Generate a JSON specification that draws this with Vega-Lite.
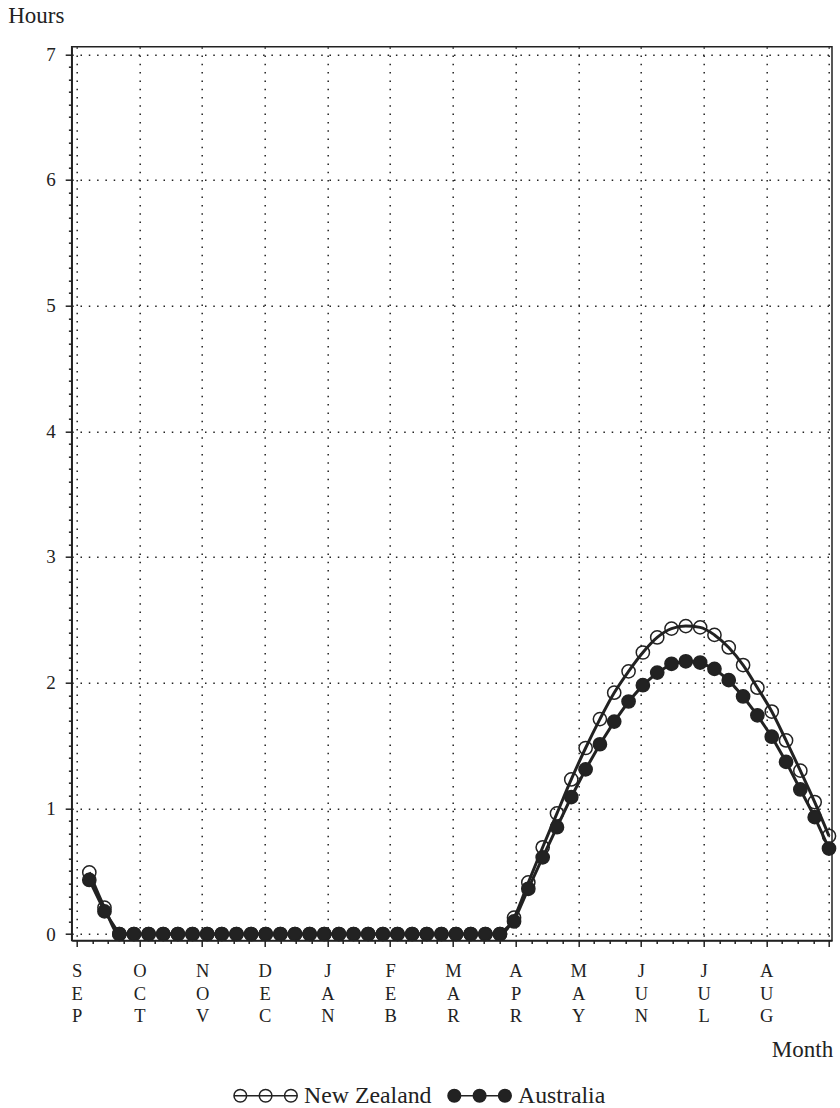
{
  "$schema": "https://vega.github.io/schema/vega-lite/v6.json",
  "width": 760.3,
  "height": 893.8,
  "autosize": {"type": "none"},
  "padding": {"left": 71.7, "top": 46.7, "right": 8, "bottom": 167.5},
  "background": "white",
  "config": {
    "view": {"stroke": "#222", "strokeWidth": 1.5},
    "font": "Liberation Serif"
  },
  "data": {
    "values": [
      {"time": 0.201, "country": "New Zealand", "hours": 0.49},
      {"time": 0.443, "country": "New Zealand", "hours": 0.21},
      {"time": 0.680, "country": "New Zealand", "hours": 0},
      {"time": 0.913, "country": "New Zealand", "hours": 0},
      {"time": 1.147, "country": "New Zealand", "hours": 0},
      {"time": 1.380, "country": "New Zealand", "hours": 0},
      {"time": 1.614, "country": "New Zealand", "hours": 0},
      {"time": 1.847, "country": "New Zealand", "hours": 0},
      {"time": 2.081, "country": "New Zealand", "hours": 0},
      {"time": 2.314, "country": "New Zealand", "hours": 0},
      {"time": 2.548, "country": "New Zealand", "hours": 0},
      {"time": 2.782, "country": "New Zealand", "hours": 0},
      {"time": 3.015, "country": "New Zealand", "hours": 0},
      {"time": 3.249, "country": "New Zealand", "hours": 0},
      {"time": 3.482, "country": "New Zealand", "hours": 0},
      {"time": 3.716, "country": "New Zealand", "hours": 0},
      {"time": 3.949, "country": "New Zealand", "hours": 0},
      {"time": 4.183, "country": "New Zealand", "hours": 0},
      {"time": 4.416, "country": "New Zealand", "hours": 0},
      {"time": 4.650, "country": "New Zealand", "hours": 0},
      {"time": 4.884, "country": "New Zealand", "hours": 0},
      {"time": 5.117, "country": "New Zealand", "hours": 0},
      {"time": 5.351, "country": "New Zealand", "hours": 0},
      {"time": 5.584, "country": "New Zealand", "hours": 0},
      {"time": 5.818, "country": "New Zealand", "hours": 0},
      {"time": 6.051, "country": "New Zealand", "hours": 0},
      {"time": 6.285, "country": "New Zealand", "hours": 0},
      {"time": 6.519, "country": "New Zealand", "hours": 0},
      {"time": 6.752, "country": "New Zealand", "hours": 0},
      {"time": 6.976, "country": "New Zealand", "hours": 0.13},
      {"time": 7.204, "country": "New Zealand", "hours": 0.41},
      {"time": 7.433, "country": "New Zealand", "hours": 0.69},
      {"time": 7.661, "country": "New Zealand", "hours": 0.96},
      {"time": 7.889, "country": "New Zealand", "hours": 1.23},
      {"time": 8.118, "country": "New Zealand", "hours": 1.48},
      {"time": 8.346, "country": "New Zealand", "hours": 1.71},
      {"time": 8.574, "country": "New Zealand", "hours": 1.92},
      {"time": 8.803, "country": "New Zealand", "hours": 2.09},
      {"time": 9.031, "country": "New Zealand", "hours": 2.24},
      {"time": 9.260, "country": "New Zealand", "hours": 2.36},
      {"time": 9.488, "country": "New Zealand", "hours": 2.43},
      {"time": 9.716, "country": "New Zealand", "hours": 2.45},
      {"time": 9.945, "country": "New Zealand", "hours": 2.44},
      {"time": 10.173, "country": "New Zealand", "hours": 2.38},
      {"time": 10.401, "country": "New Zealand", "hours": 2.28},
      {"time": 10.630, "country": "New Zealand", "hours": 2.14},
      {"time": 10.858, "country": "New Zealand", "hours": 1.96},
      {"time": 11.087, "country": "New Zealand", "hours": 1.77},
      {"time": 11.315, "country": "New Zealand", "hours": 1.54},
      {"time": 11.543, "country": "New Zealand", "hours": 1.30},
      {"time": 11.772, "country": "New Zealand", "hours": 1.05},
      {"time": 12.000, "country": "New Zealand", "hours": 0.78},
      {"time": 0.201, "country": "Australia", "hours": 0.43},
      {"time": 0.443, "country": "Australia", "hours": 0.18},
      {"time": 0.680, "country": "Australia", "hours": 0},
      {"time": 0.913, "country": "Australia", "hours": 0},
      {"time": 1.147, "country": "Australia", "hours": 0},
      {"time": 1.380, "country": "Australia", "hours": 0},
      {"time": 1.614, "country": "Australia", "hours": 0},
      {"time": 1.847, "country": "Australia", "hours": 0},
      {"time": 2.081, "country": "Australia", "hours": 0},
      {"time": 2.314, "country": "Australia", "hours": 0},
      {"time": 2.548, "country": "Australia", "hours": 0},
      {"time": 2.782, "country": "Australia", "hours": 0},
      {"time": 3.015, "country": "Australia", "hours": 0},
      {"time": 3.249, "country": "Australia", "hours": 0},
      {"time": 3.482, "country": "Australia", "hours": 0},
      {"time": 3.716, "country": "Australia", "hours": 0},
      {"time": 3.949, "country": "Australia", "hours": 0},
      {"time": 4.183, "country": "Australia", "hours": 0},
      {"time": 4.416, "country": "Australia", "hours": 0},
      {"time": 4.650, "country": "Australia", "hours": 0},
      {"time": 4.884, "country": "Australia", "hours": 0},
      {"time": 5.117, "country": "Australia", "hours": 0},
      {"time": 5.351, "country": "Australia", "hours": 0},
      {"time": 5.584, "country": "Australia", "hours": 0},
      {"time": 5.818, "country": "Australia", "hours": 0},
      {"time": 6.051, "country": "Australia", "hours": 0},
      {"time": 6.285, "country": "Australia", "hours": 0},
      {"time": 6.519, "country": "Australia", "hours": 0},
      {"time": 6.752, "country": "Australia", "hours": 0},
      {"time": 6.976, "country": "Australia", "hours": 0.10},
      {"time": 7.204, "country": "Australia", "hours": 0.36},
      {"time": 7.433, "country": "Australia", "hours": 0.61},
      {"time": 7.661, "country": "Australia", "hours": 0.85},
      {"time": 7.889, "country": "Australia", "hours": 1.09},
      {"time": 8.118, "country": "Australia", "hours": 1.31},
      {"time": 8.346, "country": "Australia", "hours": 1.51},
      {"time": 8.574, "country": "Australia", "hours": 1.69},
      {"time": 8.803, "country": "Australia", "hours": 1.85},
      {"time": 9.031, "country": "Australia", "hours": 1.98},
      {"time": 9.260, "country": "Australia", "hours": 2.08},
      {"time": 9.488, "country": "Australia", "hours": 2.15},
      {"time": 9.716, "country": "Australia", "hours": 2.17},
      {"time": 9.945, "country": "Australia", "hours": 2.16},
      {"time": 10.173, "country": "Australia", "hours": 2.11},
      {"time": 10.401, "country": "Australia", "hours": 2.02},
      {"time": 10.630, "country": "Australia", "hours": 1.89},
      {"time": 10.858, "country": "Australia", "hours": 1.74},
      {"time": 11.087, "country": "Australia", "hours": 1.57},
      {"time": 11.315, "country": "Australia", "hours": 1.37},
      {"time": 11.543, "country": "Australia", "hours": 1.15},
      {"time": 11.772, "country": "Australia", "hours": 0.93},
      {"time": 12.000, "country": "Australia", "hours": 0.68}
    ]
  },
  "encoding": {
    "x": {
      "field": "time",
      "type": "quantitative",
      "scale": {"domain": [-0.0798, 12.048], "nice": false, "zero": false},
      "axis": {
        "title": "Month",
        "values": [0, 0.25, 0.5, 0.75, 1, 1.25, 1.5, 1.75, 2, 2.25, 2.5, 2.75, 3, 3.25, 3.5, 3.75, 4, 4.25, 4.5, 4.75, 5, 5.25, 5.5, 5.75, 6, 6.25, 6.5, 6.75, 7, 7.25, 7.5, 7.75, 8, 8.25, 8.5, 8.75, 9, 9.25, 9.5, 9.75, 10, 10.25, 10.5, 10.75, 11, 11.25, 11.5, 11.75, 12],
        "grid": true,
        "gridOpacity": {"condition": {"test": "datum.value % 1 == 0", "value": 1}, "value": 0},
        "gridDash": [1.5, 6.8],
        "gridColor": "#222",
        "gridWidth": 1.5,
        "tickSize": {"condition": {"test": "datum.value % 1 == 0", "value": 6}, "value": 3},
        "tickColor": "#222",
        "tickWidth": 1.5,
        "labelExpr": "datum.value % 1 == 0 && datum.value < 12 ? split(slice('SEPOCTNOVDECJANFEBMARAPRMAYJUNJULAUG', datum.value * 3, datum.value * 3 + 3), '') : ''",
        "labelFont": "Liberation Serif",
        "labelFontSize": 18.5,
        "labelColor": "#222",
        "labelBaseline": "top",
        "labelAlign": "center",
        "labelLineHeight": 22.5,
        "labelPadding": 15,
        "labelOverlap": false,
        "labelFlush": false,
        "labelBound": false,
        "domain": true,
        "domainColor": "#222",
        "domainWidth": 1.5,
        "titleFont": "Liberation Serif",
        "titleFontSize": 23,
        "titleFontWeight": "normal",
        "titleColor": "#222",
        "titleAlign": "right",
        "titleAnchor": "end",
        "titleBaseline": "alphabetic",
        "titleX": 761,
        "titleY": 116
      }
    },
    "y": {
      "field": "hours",
      "type": "quantitative",
      "scale": {"domain": [-0.0517, 7.0605], "nice": false, "zero": false},
      "axis": {
        "title": "Hours",
        "values": [0, 0.1, 0.2, 0.3, 0.4, 0.5, 0.6, 0.7, 0.8, 0.9, 1, 1.1, 1.2, 1.3, 1.4, 1.5, 1.6, 1.7, 1.8, 1.9, 2, 2.1, 2.2, 2.3, 2.4, 2.5, 2.6, 2.7, 2.8, 2.9, 3, 3.1, 3.2, 3.3, 3.4, 3.5, 3.6, 3.7, 3.8, 3.9, 4, 4.1, 4.2, 4.3, 4.4, 4.5, 4.6, 4.7, 4.8, 4.9, 5, 5.1, 5.2, 5.3, 5.4, 5.5, 5.6, 5.7, 5.8, 5.9, 6, 6.1, 6.2, 6.3, 6.4, 6.5, 6.6, 6.7, 6.8, 6.9, 7],
        "grid": true,
        "gridOpacity": {"condition": {"test": "datum.value % 1 == 0", "value": 1}, "value": 0},
        "gridDash": [1.5, 6.8],
        "gridColor": "#222",
        "gridWidth": 1.5,
        "tickSize": {"condition": {"test": "datum.value % 1 == 0", "value": 6.5}, "value": 3.3},
        "tickColor": "#222",
        "tickWidth": 1.5,
        "labelExpr": "datum.value % 1 == 0 ? format(datum.value, 'd') : ''",
        "labelFont": "Liberation Serif",
        "labelFontSize": 19,
        "labelColor": "#222",
        "labelAlign": "right",
        "labelBaseline": "middle",
        "labelPadding": 10,
        "labelOverlap": false,
        "labelFlush": false,
        "labelBound": false,
        "domain": true,
        "domainColor": "#222",
        "domainWidth": 1.5,
        "titleFont": "Liberation Serif",
        "titleFontSize": 23,
        "titleFontWeight": "normal",
        "titleColor": "#222",
        "titleAngle": 0,
        "titleAlign": "left",
        "titleBaseline": "alphabetic",
        "titleX": -64,
        "titleY": -24
      }
    }
  },
  "layer": [
    {
      "transform": [{"filter": "datum.country === 'New Zealand'"}],
      "mark": {"type": "line", "interpolate": "monotone", "color": "#222", "strokeWidth": 3}
    },
    {
      "transform": [{"filter": "datum.country === 'Australia'"}],
      "mark": {"type": "line", "color": "#222", "strokeWidth": 3}
    },
    {
      "mark": {"type": "point", "shape": "circle", "filled": true, "size": 175, "stroke": "#222", "strokeWidth": 1.5, "opacity": 1, "fillOpacity": 1, "strokeOpacity": 1},
      "encoding": {
        "fill": {
          "field": "country",
          "type": "nominal",
          "sort": ["New Zealand", "Australia"],
          "scale": {"domain": ["New Zealand", "Australia"], "range": ["transparent", "#222"]},
          "legend": {
            "title": null,
            "orient": "none",
            "legendX": 182,
            "legendY": 1037,
            "direction": "horizontal",
            "symbolType": "M-5,0A1,1,0,1,1,-3,0A1,1,0,1,1,-5,0ZM-1,0A1,1,0,1,1,1,0A1,1,0,1,1,-1,0ZM3,0A1,1,0,1,1,5,0A1,1,0,1,1,3,0ZM-5,0L5,0",
            "symbolSize": 160,
            "symbolStrokeColor": "#222",
            "symbolStrokeWidth": 1.5,
            "symbolOpacity": 1,
            "labelFont": "Liberation Serif",
            "labelFontSize": 23.8,
            "labelColor": "#222",
            "labelOffset": 26.5,
            "columnPadding": 13,
            "padding": 0
          }
        }
      }
    }
  ]
}
